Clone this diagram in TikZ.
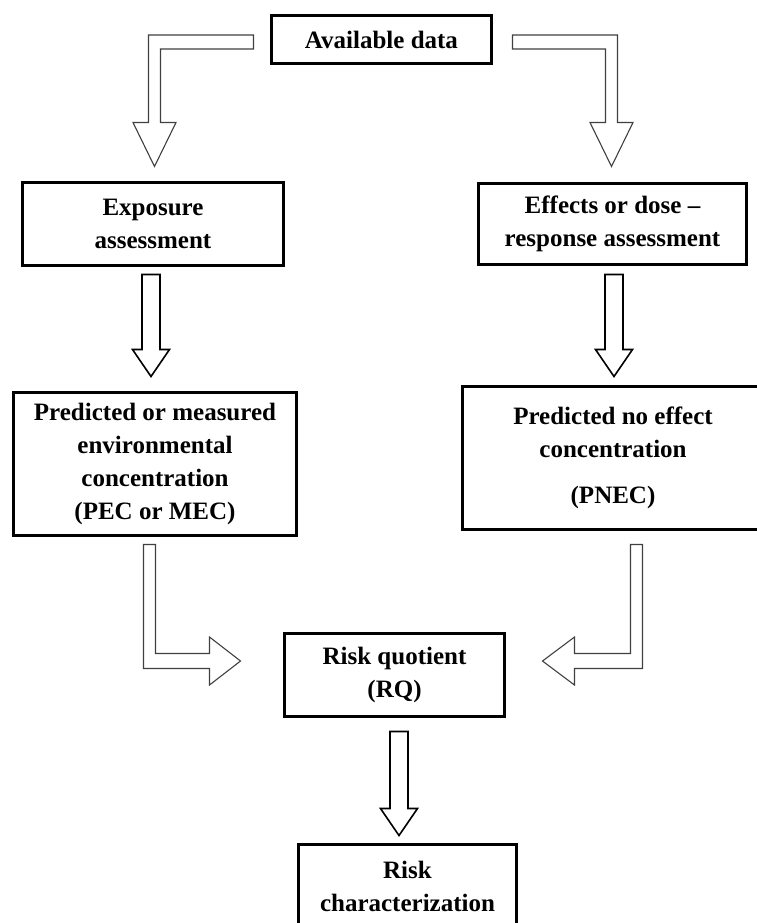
\documentclass[tikz,border=0pt]{standalone}
\usepackage{fontspec}
\setmainfont{Liberation Serif}
\usetikzlibrary{calc}
\begin{document}
\begin{tikzpicture}[x=1pt,y=1pt,
  box/.style={draw=black,line width=3pt,fill=white,align=center,inner sep=0pt,
    font=\bfseries\fontsize{25}{33}\selectfont},
  blk/.style={draw=black!75,line width=1.1pt,fill=white,line join=miter},
  blkdark/.style={draw=black,line width=1.6pt,fill=white,line join=miter}]
\clip (0,0) rectangle (757,-923);
% boxes
\node[box,minimum width=220pt,minimum height=48pt] (avail) at (381.5,-39.5) {Available data};
\node[box,minimum width=261pt,minimum height=83pt] (expo) at (153,-224) {Exposure\\assessment};
\node[box,minimum width=268pt,minimum height=81pt] (effects) at (612.5,-224) {Effects or dose –\\response assessment};
\node[box,minimum width=283pt,minimum height=143pt] (pec) at (155,-464) {Predicted or measured\\environmental\\concentration\\(PEC or MEC)};
\node[box,minimum width=301pt,minimum height=143pt] (pnec) at (613,-458) {Predicted no effect\\concentration\\[13pt](PNEC)};
\node[box,minimum width=220pt,minimum height=83pt] (rq) at (394.5,-675) {Risk quotient\\(RQ)};
\node[box,minimum width=218pt,minimum height=83pt] (risk) at (407.5,-886) {Risk\\characterization};
% arrow end points
\coordinate (s1) at ($(avail.west)+(-16.5,-2.5)$);
\coordinate (t1) at ($(expo.north)+(1.5,14.5)$);
\coordinate (s2) at ($(avail.east)+(19.5,-2.5)$);
\coordinate (t2) at ($(effects.north)+(-1,15.5)$);
\coordinate (s3) at ($(expo.south)+(-2,-7.5)$);
\coordinate (t3) at ($(pec.north)+(-4,14.5)$);
\coordinate (s4) at ($(effects.south)+(1.5,-8.5)$);
\coordinate (t4) at ($(pnec.north)+(1,8.5)$);
\coordinate (s5) at ($(pec.south)+(-5.5,-7.5)$);
\coordinate (t5) at ($(rq.west)+(-42.5,14)$);
\coordinate (s6) at ($(pnec.south)+(23.5,-13.5)$);
\coordinate (t6) at ($(rq.east)+(36.5,14)$);
\coordinate (s7) at ($(rq.south)+(4.5,-13.5)$);
\coordinate (t7) at ($(risk.north)+(-8.5,7.5)$);
% top elbow arrows
\draw[blk] let \p1=(s1), \p2=(t1) in
  (\x1,\y1+7pt) -- (\x2-6pt,\y1+7pt) -- (\x2-6pt,\y2+44pt) -- (\x2-21.5pt,\y2+44pt)
  -- (\x2,\y2) -- (\x2+21.5pt,\y2+44pt) -- (\x2+6pt,\y2+44pt) -- (\x2+6pt,\y1-7pt)
  -- (\x1,\y1-7pt) -- cycle;
\draw[blk] let \p1=(s2), \p2=(t2) in
  (\x1,\y1+7pt) -- (\x2+6pt,\y1+7pt) -- (\x2+6pt,\y2+44pt) -- (\x2+21.5pt,\y2+44pt)
  -- (\x2,\y2) -- (\x2-21.5pt,\y2+44pt) -- (\x2-6pt,\y2+44pt) -- (\x2-6pt,\y1-7pt)
  -- (\x1,\y1-7pt) -- cycle;
% straight down arrows
\foreach \a/\b in {s3/t3,s4/t4,s7/t7}{
  \draw[blkdark] let \p1=(\a), \p2=(\b) in
    (\x1-9pt,\y1) -- (\x1-9pt,\y2+27pt) -- (\x1-18.5pt,\y2+27pt) -- (\x1,\y2)
    -- (\x1+18.5pt,\y2+27pt) -- (\x1+9pt,\y2+27pt) -- (\x1+9pt,\y1) -- cycle;
}
% bottom elbow arrows
\draw[blk] let \p1=(s5), \p2=(t5) in
  (\x1-6pt,\y1) -- (\x1-6pt,\y2-7.5pt) -- (\x2-31pt,\y2-7.5pt) -- (\x2-31pt,\y2-24pt)
  -- (\x2,\y2) -- (\x2-31pt,\y2+24pt) -- (\x2-31pt,\y2+7.5pt) -- (\x1+6pt,\y2+7.5pt)
  -- (\x1+6pt,\y1) -- cycle;
\draw[blk] let \p1=(s6), \p2=(t6) in
  (\x1+6pt,\y1) -- (\x1+6pt,\y2-7.5pt) -- (\x2+32pt,\y2-7.5pt) -- (\x2+32pt,\y2-24pt)
  -- (\x2,\y2) -- (\x2+32pt,\y2+24pt) -- (\x2+32pt,\y2+7.5pt) -- (\x1-6pt,\y2+7.5pt)
  -- (\x1-6pt,\y1) -- cycle;
\end{tikzpicture}
\end{document}
